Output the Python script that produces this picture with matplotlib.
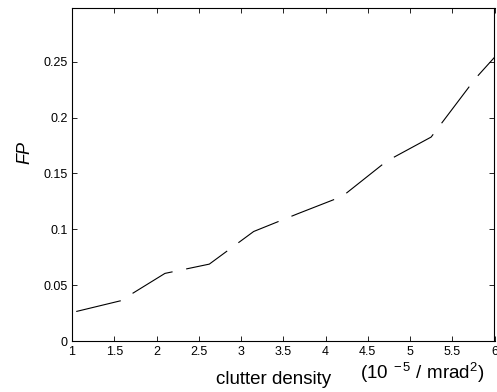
import matplotlib
matplotlib.use('Agg')
import matplotlib.pyplot as plt

plt.rcParams['font.family'] = ['Liberation Sans', 'DejaVu Sans']
plt.rcParams['mathtext.fontset'] = 'custom'
plt.rcParams['mathtext.rm'] = 'Liberation Sans'
plt.rcParams['mathtext.it'] = 'Liberation Sans:italic'
plt.rcParams['lines.scale_dashes'] = False

# clutter density (1e-5 / mrad^2) vs FP
density = [1.05, 1.575, 2.1, 2.625, 3.15, 3.675, 4.2, 4.725, 5.25, 5.775, 6.3]
fp = [0.0264, 0.036, 0.0605, 0.0688, 0.098, 0.114, 0.1295, 0.161, 0.1825, 0.235, 0.279]

xticks = [1, 1.5, 2, 2.5, 3, 3.5, 4, 4.5, 5, 5.5, 6]
yticks = [0, 0.05, 0.1, 0.15, 0.2, 0.25]

fig = plt.figure(figsize=(4.97, 3.92), dpi=100)
ax = fig.add_axes([72/497, 51/392, 422.5/497, 333/392])

ax.plot(density, fp, color='black', linewidth=0.8, dashes=(33, 10))

ax.set_xlim(1, 6)
ax.set_ylim(0, 0.298)
ax.set_xticks(xticks)
ax.set_xticklabels(['1', '1.5', '2', '2.5', '3', '3.5', '4', '4.5', '5', '5.5', '6'])
ax.set_yticks(yticks)
ax.set_yticklabels(['0', '0.05', '0.1', '0.15', '0.2', '0.25'])
ax.tick_params(direction='in', length=3.6, width=0.6, top=True, right=True,
               labelsize=9)
ax.tick_params(axis='x', pad=3.5)
ax.tick_params(axis='y', pad=3)
for s in ax.spines.values():
    s.set_linewidth(0.8)

fig.text(25/497, 1 - 152/392, 'FP', fontsize=13, style='italic',
         rotation=90, ha='center', va='center')
fig.text(274/497, 1 - 379/392, 'clutter density', fontsize=13.5,
         ha='center', va='center')
fig.text(422/497, 1 - 373/392, r'(10$^{\ -5}$ / mrad$^2$)', fontsize=13.5,
         ha='center', va='center')

fig.savefig('out.png', dpi=100)
